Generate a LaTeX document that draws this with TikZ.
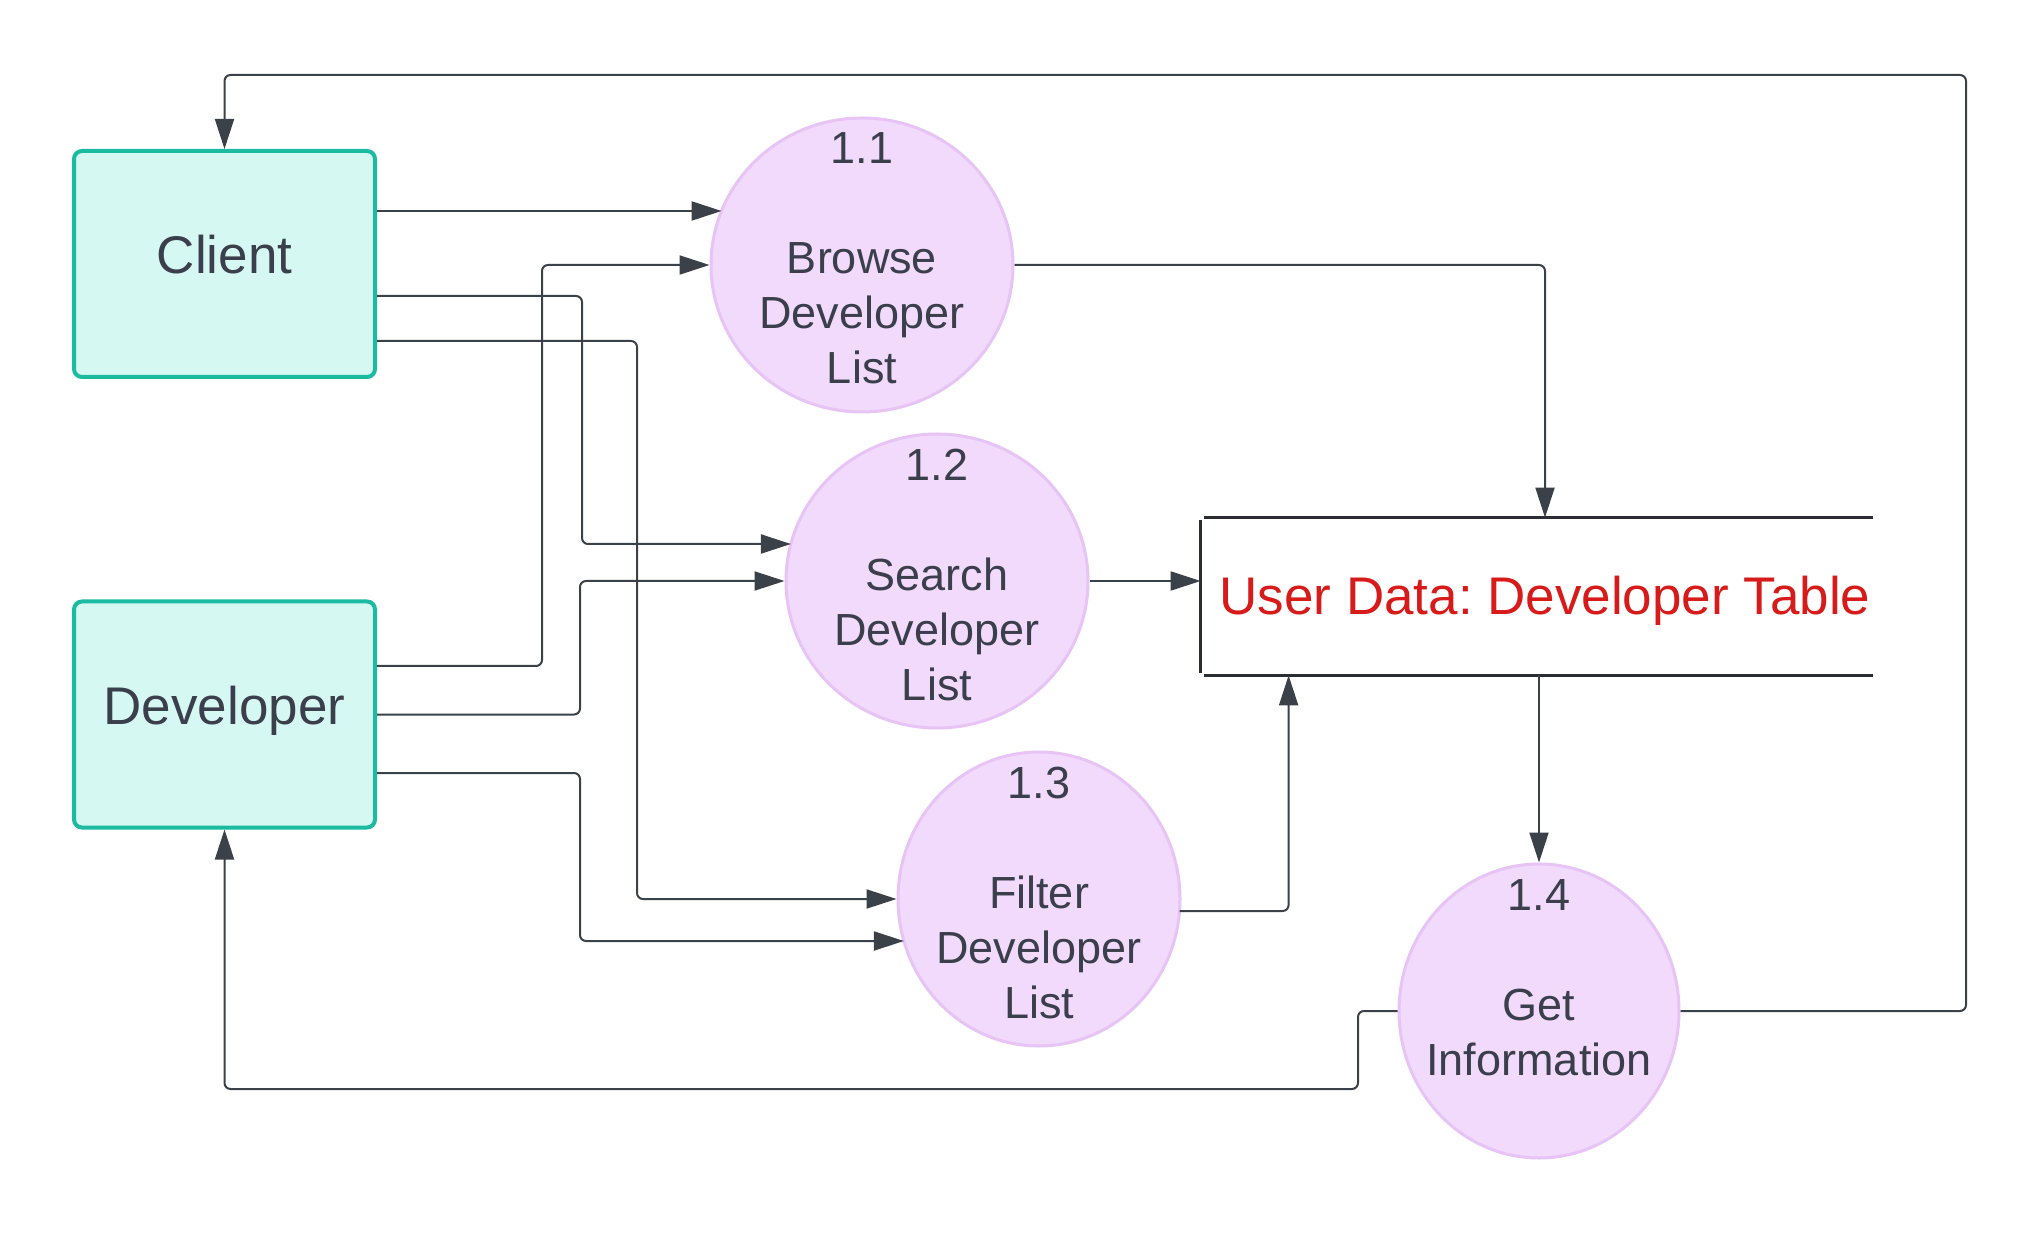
\documentclass[tikz,border=0pt]{standalone}
\usepackage{fontspec}
\setmainfont{Liberation Sans}
\usetikzlibrary{arrows.meta,shapes.geometric}
\definecolor{ink}{HTML}{3B4149}
\definecolor{txt}{HTML}{3A3F4B}
\definecolor{tealb}{HTML}{1BBBA2}
\definecolor{tealf}{HTML}{D6F8F3}
\definecolor{lavf}{HTML}{F1DAFC}
\definecolor{lavb}{HTML}{E7C3F6}
\definecolor{storered}{HTML}{D71A1A}
\definecolor{storeline}{HTML}{2A2E33}
\frenchspacing
\begin{document}
\begin{tikzpicture}[x=0.5pt,y=-0.5pt,
  entity/.style={draw=tealb, fill=tealf, line width=2pt, rounded corners=4pt,
    minimum width=150.5pt, minimum height=113pt, inner sep=0pt, text=txt,
    font=\fontsize{26.5}{30}\selectfont, text height=20pt, text depth=10pt},
  proc/.style={ellipse, draw=lavb, fill=lavf, line width=1.5pt, inner sep=0pt,
    minimum height=147pt},
  proctext/.style={align=center, text=txt, font=\fontsize{22.5}{27.5}\selectfont,
    inner sep=0pt, anchor=north},
  flow/.style={draw=ink, line width=1pt, rounded corners=3pt,
    -{Triangle[length=15pt,width=9.5pt]}},
  storeedge/.style={draw=storeline, line width=1.5pt}
  ]
\useasboundingbox (0,0) rectangle (2044,1234);
\fill[white] (0,0) rectangle (2044,1234);

% entities
\node[entity] (client) at (224.5,264) {Client};
\node[entity] (developer) at (224.5,714.5) {Developer};

% processes
\node[proc, minimum width=151pt] (p11) at (862,265) {};
\node[proc, minimum width=151pt] (p12) at (937,581) {};
\node[proc, minimum width=141pt] (p13) at (1039,899) {};
\node[proc, minimum width=140pt] (p14) at (1539,1011) {};

\node[proctext] (t11) at ([yshift=-8pt]p11.north) {1.1\\[27.5pt]Browse\\Developer\\List};
\node[proctext] (t12) at ([yshift=-8pt]p12.north) {1.2\\[27.5pt]Search\\Developer\\List};
\node[proctext] (t13) at ([yshift=-8pt]p13.north) {1.3\\[27.5pt]Filter\\Developer\\List};
\node[proctext] (t14) at ([yshift=-8.5pt]p14.north) {1.4\\[27.5pt]Get\\Information};

% data store
\node[minimum width=336pt, minimum height=78.5pt, inner sep=0pt] (store) at (1537,596.5) {};
\node[text=storered, font=\fontsize{26.5}{30}\selectfont, inner sep=0pt,
  text height=19pt, text depth=0pt] (storetext) at (1545,596) {User Data: Developer Table};
\draw[storeedge] ([xshift=1.5pt]store.north west) -- (store.north east);
\draw[storeedge] ([xshift=1.5pt]store.south west) -- (store.south east);
\draw[draw=storeline, line width=1.25pt] ([yshift=-1pt]store.north west) -- ([yshift=1pt]store.south west);

% client flows
\draw[flow] (client.east |- 0,211) -- ([shift={(-140.4,-54)}]p11.center);
\draw[flow] (client.east |- 0,296) -| (582,544) -- ([shift={(-146.1,-37)}]p12.center);
\draw[flow] (client.east |- 0,341) -| (637,899) -- (p13.west);

% developer flows
\draw[flow] (developer.east |- 0,666) -| (542,265) -- (p11.west);
\draw[flow] (developer.east) -| (580,581) -- (p12.west);
\draw[flow] (developer.east |- 0,773) -| (580,941) -- ([shift={(-135.1,42)}]p13.center);

% process to store
\draw[flow] (p11.east) -| ([xshift=4pt]store.north);
\draw[flow] (p12.east) -- (p12.east -| store.west);
\draw[flow] ([shift={(140.5,12)}]p13.center) -| ([xshift=44pt]store.south west);
\draw[flow] (store.south -| p14.north) -- (p14.north);

% get information outputs
\draw[flow] (p14.east) -| (1966,75) -| (client.north);
\draw[flow] (p14.west) -| (1358,1089) -| (developer.south);
\end{tikzpicture}
\end{document}
